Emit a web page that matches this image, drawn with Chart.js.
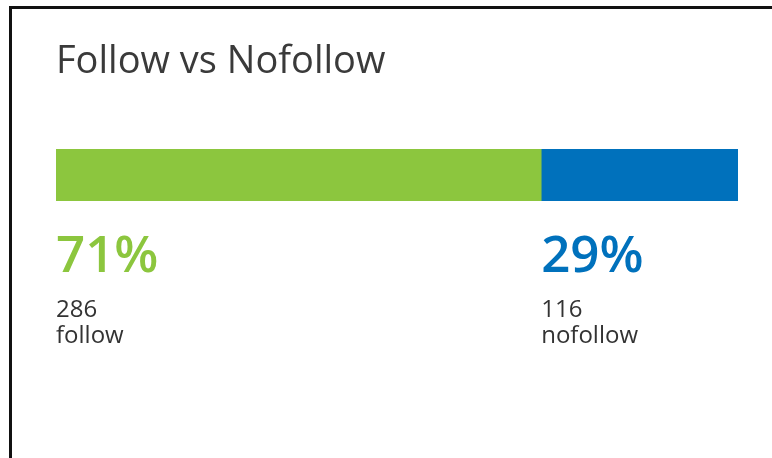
<!DOCTYPE html>
<html>
<head>
<meta charset="utf-8">
<script src="https://cdn.jsdelivr.net/npm/chart.js@4"></script>
<style>
  html, body { margin: 0; padding: 0; background: #fff; overflow: hidden; }
  #card {
    position: absolute; left: 9px; top: 6px; width: 820px; height: 520px;
    border: 3px solid #111; box-sizing: border-box;
  }
  #wrap { position: absolute; left: 0; top: 0; width: 772px; height: 458px; }
</style>
</head>
<body>
<div id="card"></div>
<div id="wrap"><canvas id="chart"></canvas></div>
<script>
/* ── data ── */
const categories = ['follow', 'nofollow'];
const counts     = [286, 116];
const barColors  = ['#8cc63e', '#0071bc'];
const chartTitle = 'Follow vs Nofollow';

const total = counts.reduce((a, b) => a + b, 0);

/* ── text drawn under each bar segment ── */
const labelPlugin = {
  id: 'segmentLabels',
  afterDraw(chart) {
    const ctx = chart.ctx;
    ctx.save();
    ctx.textAlign = 'left';
    ctx.textBaseline = 'alphabetic';

    // title
    ctx.fillStyle = '#3a3a3a';
    ctx.font = "38px 'Open Sans'";
    ctx.fillText(chartTitle, chart.chartArea.left, 73);

    categories.forEach((name, i) => {
      const bar = chart.getDatasetMeta(i).data[0];
      const x = Math.min(bar.base, bar.x);
      const pct = Math.round(counts[i] / total * 100) + '%';
      ctx.fillStyle = barColors[i];
      ctx.font = "600 51px 'Open Sans'";
      ctx.fillText(pct, x, 272);
      ctx.fillStyle = '#333';
      ctx.font = "24px 'Open Sans'";
      ctx.fillText(String(counts[i]), x, 317);
      ctx.fillText(name, x, 343);
    });
    ctx.restore();
  }
};

new Chart(document.getElementById('chart'), {
  type: 'bar',
  data: {
    labels: [''],
    datasets: categories.map((name, i) => ({
      label: name,
      data: [counts[i]],
      backgroundColor: barColors[i],
      borderWidth: 0,
      barPercentage: 1,
      categoryPercentage: 1,
    })),
  },
  options: {
    indexAxis: 'y',
    responsive: true,
    maintainAspectRatio: false,
    animation: false,
    layout: { padding: { left: 56, right: 34, top: 149, bottom: 257 } },
    scales: {
      x: { stacked: true, min: 0, max: total, display: false },
      y: { stacked: true, display: false },
    },
    plugins: {
      legend: { display: false },
      tooltip: { enabled: false },
    },
  },
  plugins: [labelPlugin],
});
</script>
</body>
</html>
